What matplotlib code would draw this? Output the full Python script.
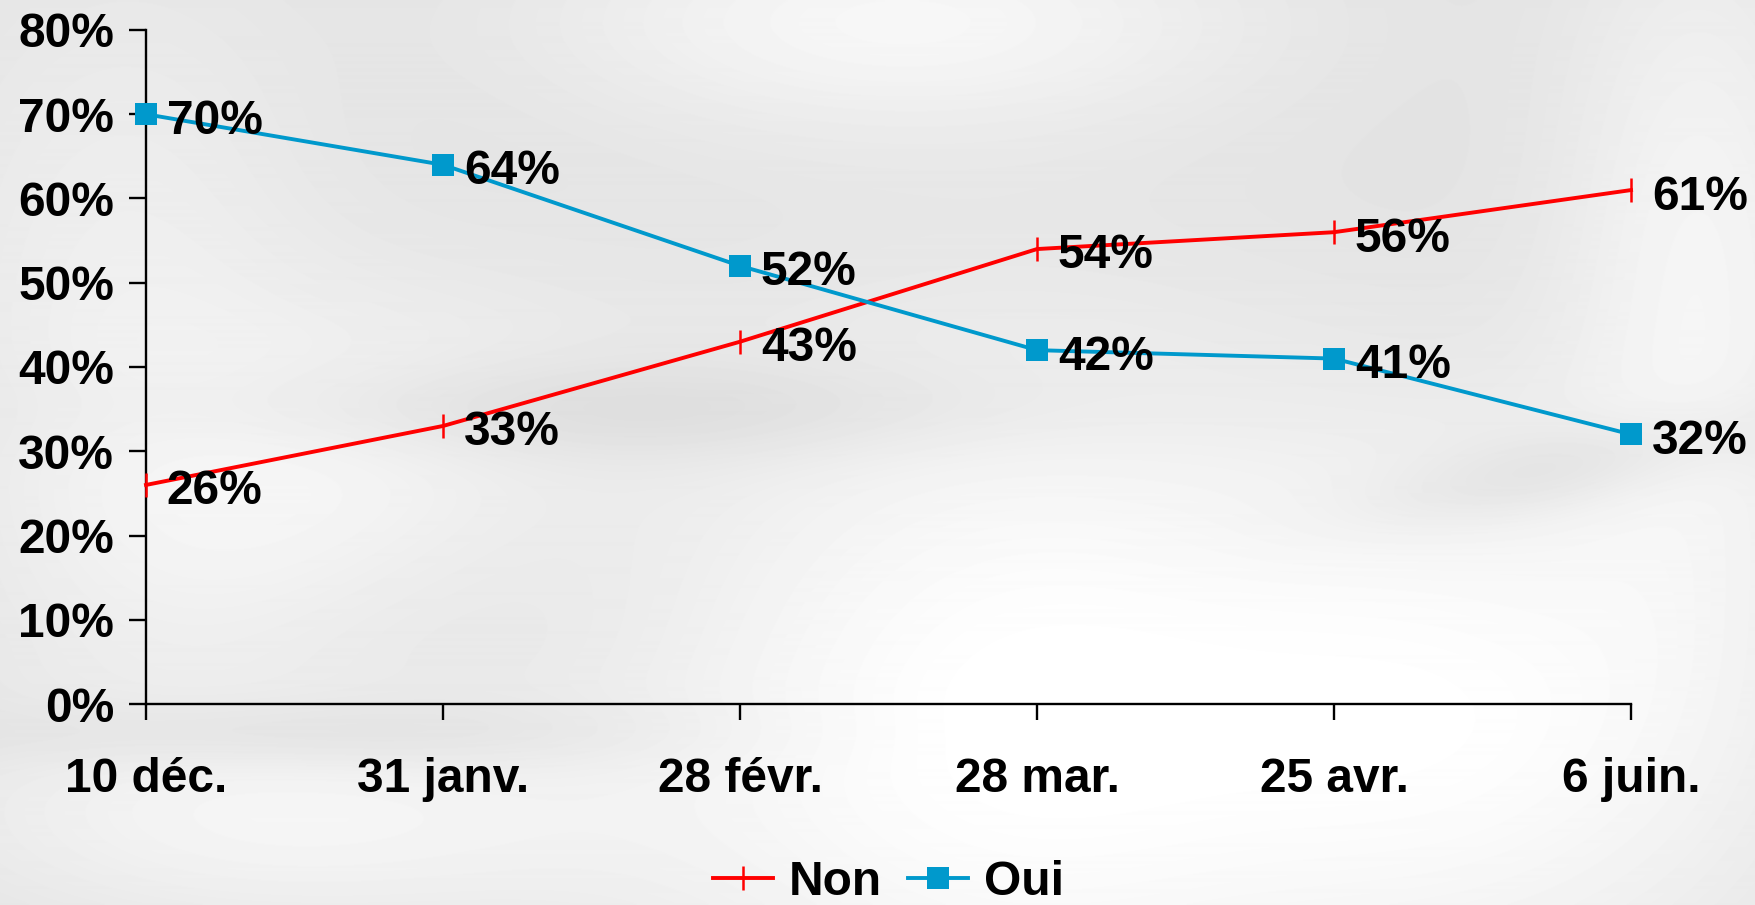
import numpy as np
import matplotlib
matplotlib.use("Agg")
import matplotlib.pyplot as plt
from matplotlib.ticker import FuncFormatter

categories = ["10 déc.", "31 janv.", "28 févr.", "28 mar.", "25 avr.", "6 juin."]
non_values = [26, 33, 43, 54, 56, 61]
oui_values = [70, 64, 52, 42, 41, 32]
y_ticks = [0, 10, 20, 30, 40, 50, 60, 70, 80]

RED = "#FF0000"
BLUE = "#0099CC"
FONT = ["Liberation Sans", "DejaVu Sans"]
FS = 34.5

plt.rcParams["font.family"] = FONT
plt.rcParams["font.weight"] = "bold"

W, H = 1756, 905
fig = plt.figure(figsize=(W / 100, H / 100), dpi=100)

# decorative light-gray background with soft swirls
bg_ax = fig.add_axes([0, 0, 1, 1], zorder=-10)
yy, xx = np.mgrid[0:H, 0:W].astype(float)
img = np.full((H, W), 0.885)
def blob(cx, cy, sx, sy, amp, rot=0.0):
    c, s = np.cos(rot), np.sin(rot)
    dx, dy = xx - cx, yy - cy
    u = c * dx + s * dy
    v = -s * dx + c * dy
    return amp * np.exp(-(u ** 2 / (2 * sx ** 2) + v ** 2 / (2 * sy ** 2)))
img += blob(900, 20, 250, 80, 0.08)
img += blob(1000, 720, 260, 260, 0.11, rot=-0.5)
img += blob(1500, 720, 220, 200, 0.09)
img += blob(1700, 250, 100, 250, 0.07)
img += blob(120, 300, 150, 250, 0.05)
img += blob(300, 820, 250, 80, 0.07)
img += blob(330, 470, 200, 120, 0.06, rot=-0.4)
img -= blob(600, 410, 300, 35, 0.05)
img -= blob(1560, 470, 150, 30, 0.05, rot=-0.2)
img -= blob(300, 735, 250, 25, 0.04)
img = np.clip(img, 0, 1)
bg_ax.imshow(img, cmap="gray", vmin=0, vmax=1, aspect="auto", extent=[0, 1, 0, 1])
bg_ax.axis("off")

ax = fig.add_axes([146 / W, 1 - 704 / H, (1631 - 146) / W, (704 - 30) / H])
ax.patch.set_alpha(0)

x = np.arange(len(categories))
ax.plot(x, non_values, color=RED, lw=2.8, marker="|", markersize=17, mew=1.8,
        label="Non", zorder=3, clip_on=False)
ax.plot(x, oui_values, color=BLUE, lw=2.8, marker="s", markersize=16, mew=0,
        label="Oui", zorder=3, clip_on=False)

for series in (non_values, oui_values):
    for xi, v in zip(x, series):
        ax.annotate(f"{v}%", (xi, v), xytext=(15, -14), textcoords="offset points",
                    ha="left", va="baseline", fontsize=FS, fontweight="bold",
                    color="black", zorder=5, family=FONT)

ax.set_xlim(0, len(categories) - 1)
ax.set_ylim(0, 80)
ax.set_yticks(y_ticks)
ax.yaxis.set_major_formatter(FuncFormatter(lambda v, p: f"{int(v)}%"))
ax.set_xticks(x)
ax.set_xticklabels(categories)

for side in ["top", "right"]:
    ax.spines[side].set_visible(False)
for side in ["left", "bottom"]:
    ax.spines[side].set_linewidth(1.7)
    ax.spines[side].set_color("black")

ax.tick_params(axis="y", direction="out", length=12, width=1.7, pad=11,
               labelsize=FS)
ax.tick_params(axis="x", direction="out", length=11.5, width=1.7, pad=27,
               labelsize=FS)
for lbl in ax.get_xticklabels() + ax.get_yticklabels():
    lbl.set_fontweight("bold")

leg = fig.legend(loc="center", bbox_to_anchor=(0.506, 1 - 882 / H), ncol=2,
                 frameon=False, handlelength=1.25,
                 handletextpad=0.33, columnspacing=0.55, borderpad=0,
                 prop={"weight": "bold", "size": FS, "family": FONT})

fig.savefig("out.png", dpi=100)
